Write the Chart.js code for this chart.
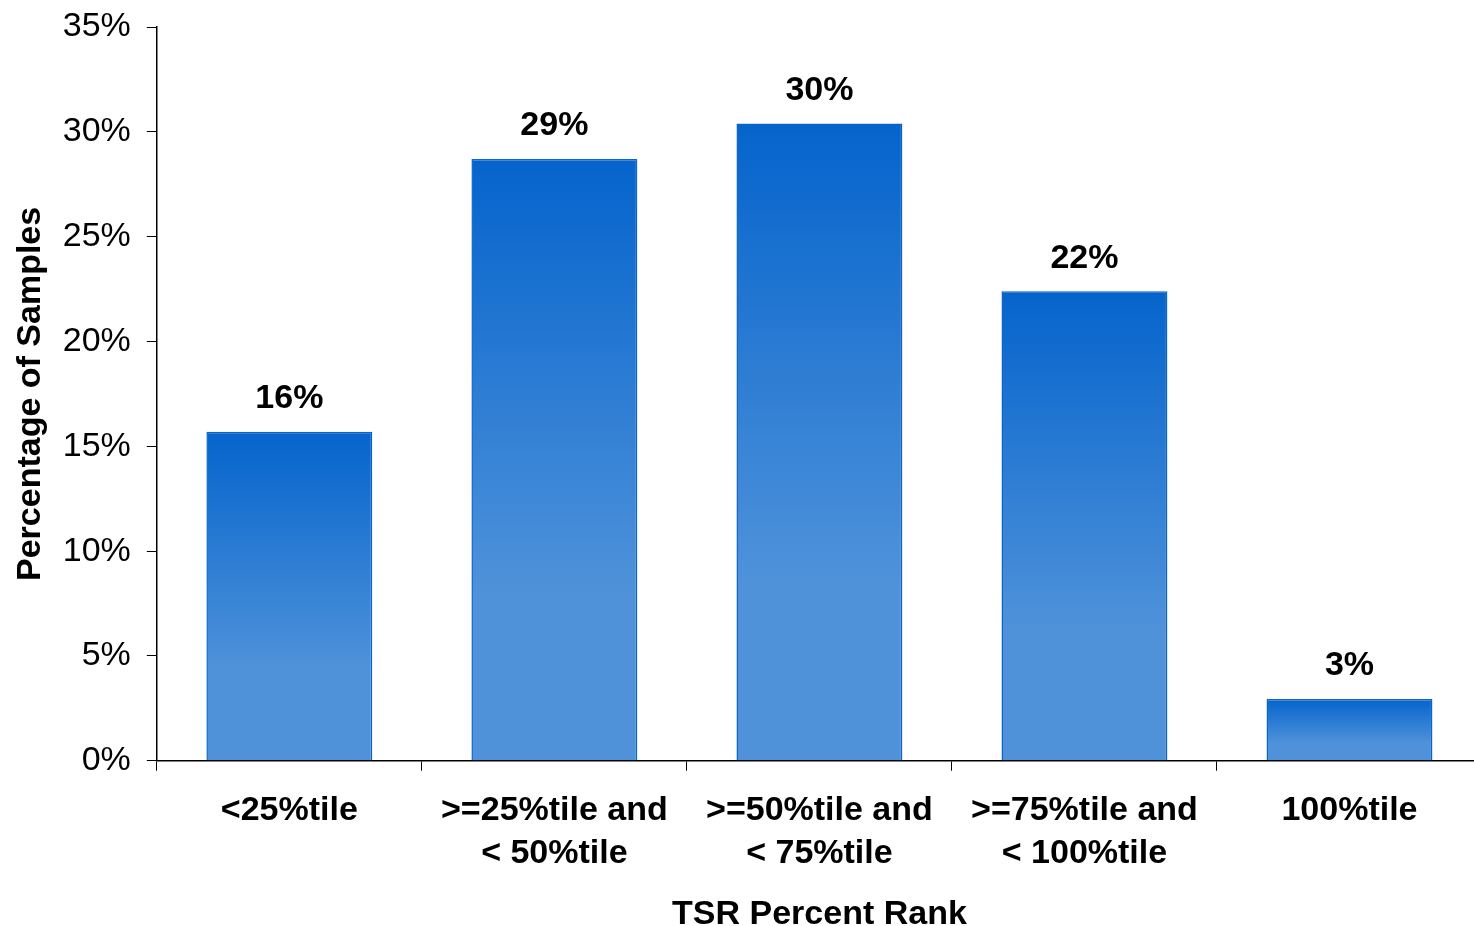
<!DOCTYPE html>
<html>
<head>
<meta charset="utf-8">
<script src="https://cdn.jsdelivr.net/npm/chart.js@4/dist/chart.umd.min.js"></script>
<style>
  html, body { margin: 0; padding: 0; background: #fff; overflow: hidden; }
  #wrap { position: relative; width: 1484px; height: 926px; }
</style>
</head>
<body>
<div id="wrap"><canvas id="chart"></canvas></div>
<script>
// data
const categorias = [
  '<25%tile',
  ['>=25%tile and', '< 50%tile'],
  ['>=50%tile and', '< 75%tile'],
  ['>=75%tile and', '< 100%tile'],
  '100%tile'
];
const porcentajes = [15.7, 28.7, 30.4, 22.4, 2.95];
const etiquetas = ['16%', '29%', '30%', '22%', '3%'];

const FUENTE = "'Liberation Sans', Arial, sans-serif";

function degradado(ctx) {
  const chart = ctx.chart;
  if (!chart.chartArea || !chart.scales.y) return '#2c7ad3';
  const y = chart.scales.y;
  const arriba = y.getPixelForValue(ctx.parsed ? ctx.parsed.y : porcentajes[ctx.dataIndex]);
  const abajo = y.getPixelForValue(0);
  const g = chart.ctx.createLinearGradient(0, arriba, 0, abajo);
  g.addColorStop(0, '#0564cc');
  g.addColorStop(0.72, '#4f92da');
  g.addColorStop(1, '#4f92da');
  return g;
}

const etiquetasBarras = {
  id: 'etiquetasBarras',
  afterDatasetsDraw(chart) {
    const ctx = chart.ctx;
    const meta = chart.getDatasetMeta(0);
    ctx.save();
    ctx.font = 'bold 34px ' + FUENTE;
    ctx.fillStyle = '#000';
    ctx.textAlign = 'center';
    ctx.textBaseline = 'middle';
    meta.data.forEach((barra, i) => {
      ctx.fillText(etiquetas[i], barra.x, barra.y - 33);
    });
    ctx.restore();
  }
};

new Chart(document.getElementById('chart'), {
  type: 'bar',
  data: {
    labels: categorias,
    datasets: [{
      data: porcentajes,
      backgroundColor: degradado,
      borderColor: '#0a64cc',
      borderWidth: 1.5,
      categoryPercentage: 1,
      barPercentage: 0.626
    }]
  },
  options: {
    responsive: true,
    maintainAspectRatio: false,
    animation: false,
    layout: { padding: { top: 0, right: 2, left: 0, bottom: -2 } },
    plugins: {
      legend: { display: false },
      tooltip: { enabled: false }
    },
    scales: {
      x: {
        grid: { display: true, drawOnChartArea: false, drawTicks: true, tickLength: 10, color: '#000', offset: true },
        border: { display: true, color: '#000', width: 1.5 },
        ticks: {
          color: '#000',
          font: { family: FUENTE, size: 34, weight: 'bold', lineHeight: 1.265 },
          padding: 18,
          maxRotation: 0,
          autoSkip: false
        },
        title: {
          display: true,
          text: 'TSR Percent Rank',
          color: '#000',
          font: { family: FUENTE, size: 34, weight: 'bold', lineHeight: 0.8 },
          padding: { top: 8, bottom: 0 }
        }
      },
      y: {
        min: 0,
        max: 35,
        grid: { display: true, drawOnChartArea: false, drawTicks: true, tickLength: 10, color: '#000' },
        border: { display: true, color: '#000', width: 1.5 },
        ticks: {
          stepSize: 5,
          color: '#000',
          font: { family: FUENTE, size: 34, lineHeight: 0.65 },
          padding: 16,
          callback: v => v + '%'
        },
        title: {
          display: true,
          text: 'Percentage of Samples',
          color: '#000',
          font: { family: FUENTE, size: 34, weight: 'bold' },
          padding: { top: 10, bottom: -4 }
        }
      }
    }
  },
  plugins: [etiquetasBarras]
});
</script>
</body>
</html>
